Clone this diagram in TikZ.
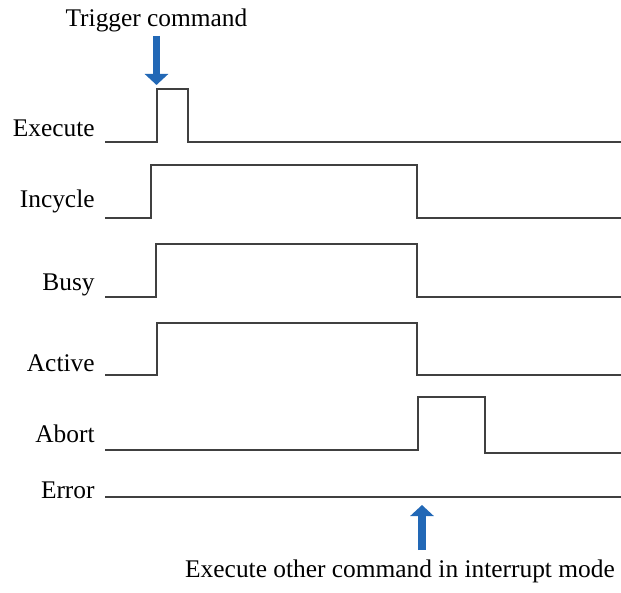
\documentclass[tikz,border=0pt]{standalone}
\usepackage{fontspec}
\setmainfont{Liberation Serif}
\usepackage{tikz}
\usetikzlibrary{arrows.meta, positioning}
\definecolor{siggray}{HTML}{404040}
\definecolor{arrowblue}{HTML}{2268B6}

\begin{document}
\begin{tikzpicture}[
  x=0.5pt, y=-0.5pt,
  font=\fontsize{12.7}{15}\selectfont,
  sig/.style={draw=siggray, line width=1.25pt},
  lbl/.style={anchor=base east, inner sep=0pt},
  note/.style={anchor=base, inner sep=0pt},
  fatarrow/.style={draw=arrowblue, line width=3.6pt, -{Triangle[width=11.5pt, length=5.5pt]}}
]
  \useasboundingbox (0,0) rectangle (621,593);

  % signal names
  \node[lbl] (exec) at (95,137) {Execute};
  \node[lbl] (incyc) at (95,208) {Incycle};
  \node[lbl] (busy) at (95,291) {Busy};
  \node[lbl] (act) at (95,371) {Active};
  \node[lbl] (abrt) at (95,442) {Abort};
  \node[lbl] (err) at (95,498) {Error};

  % waveforms
  \draw[sig] (105,142) -- (157,142) -- (157,89) -- (188,89) -- (188,142) -- (621,142);
  \draw[sig] (105,218) -- (151,218) -- (151,165) -- (417,165) -- (417,218) -- (621,218);
  \draw[sig] (105,297) -- (156,297) -- (156,244) -- (417,244) -- (417,297) -- (621,297);
  \draw[sig] (105,375) -- (157,375) -- (157,323) -- (417,323) -- (417,375) -- (621,375);
  \draw[sig] (105,450) -- (418,450) -- (418,397) -- (485,397) -- (485,453) -- (621,453);
  \draw[sig] (105,497) -- (621,497);

  % events
  \node[note] (trig) at (156.5,27) {Trigger command};
  \coordinate (trigtip) at (156.5,85);
  \draw[fatarrow, shorten <=1.5pt] (trig.south) -- (trigtip);

  \node[note] (intr) at (400,577) {Execute other command in interrupt mode};
  \coordinate (intrfoot) at (422,550);
  \coordinate (intrtip) at (422,505);
  \draw[fatarrow] (intrfoot) -- (intrtip);
\end{tikzpicture}
\end{document}
